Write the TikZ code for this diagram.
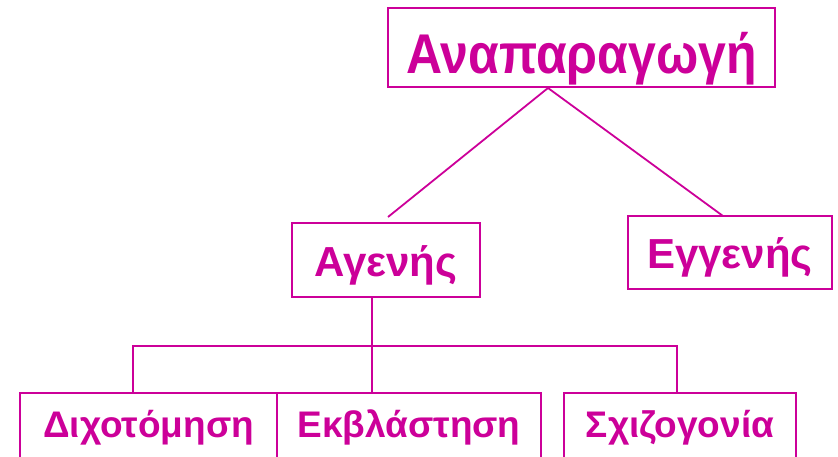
\documentclass[tikz,border=0pt]{standalone}
\usepackage{fontspec}
\setmainfont{Liberation Sans}
\definecolor{mag}{HTML}{CC0099}
\begin{document}
\begin{tikzpicture}[x=1pt,y=-1pt,
  box/.style={draw=mag, line width=1.8pt, text=mag, inner sep=0pt, anchor=center},
  big/.style={font=\fontsize{50}{50}\selectfont\bfseries, text height=65pt, text depth=14pt},
  mid/.style={font=\fontsize{42}{42}\selectfont\bfseries, text height=53pt, text depth=21pt},
  low/.style={font=\fontsize{37}{37}\selectfont\bfseries, text height=44pt, text depth=26pt},
  link/.style={draw=mag, line width=1.8pt}]
\useasboundingbox (0,0) rectangle (838,456);
\clip (0,0) rectangle (838,456);

% boxes
\node[box, big, minimum width=387pt] (root) at (581.5,47.5) {\scalebox{1}[1.12]{Αναπαραγωγή}};
\node[box, mid, minimum width=188pt] (agen) at (386,260) {Αγενής};
\node[box, mid, minimum width=204pt, text height=52pt] (egg) at (730,252.5) {Εγγενής};
\node[box, low, minimum width=257pt] (dix) at (148.5,428) {Διχοτόμηση};
\node[box, low, minimum width=264pt] (ekv) at (409,428) {Εκβλάστηση};
\node[box, low, minimum width=232pt] (sxi) at (680,428) {Σχιζογονία};

% connector points
\coordinate (apex) at (548,88);
\coordinate (aTop) at (388,217);
\coordinate (eTop) at (723,216);
\coordinate (aBot) at (372,297);
\coordinate (barL) at (133,346);
\coordinate (barR) at (677,346);

% connectors
\draw[link] (aTop) -- (apex) -- (eTop);
\draw[link] (aBot) -- (aBot |- ekv.north);
\draw[link] (barL |- dix.north) -- (barL) -- (barR) -- (barR |- sxi.north);
\end{tikzpicture}
\end{document}
